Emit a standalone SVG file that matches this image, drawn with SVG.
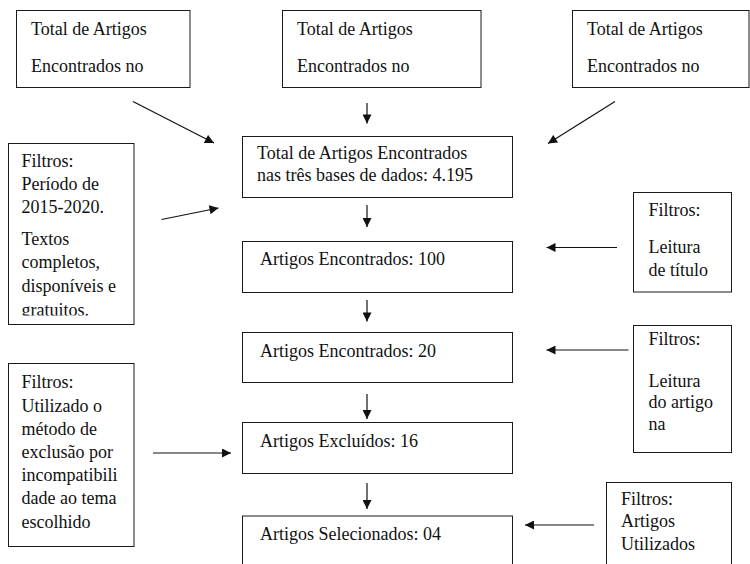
<svg xmlns="http://www.w3.org/2000/svg" width="750" height="564" viewBox="0 0 750 564">
<style>
.box{fill:#fff;stroke:#1a1a1a;stroke-width:1}
.t{font-family:"Liberation Serif","Times New Roman",serif;font-size:18px;fill:#111}
.c{stroke:#111;stroke-width:1.2;fill:none}
</style>
<defs>
<marker id="ah" viewBox="0 0 10 10" refX="10" refY="5" markerWidth="10" markerHeight="9" markerUnits="userSpaceOnUse" orient="auto">
<path d="M0,0 L10,5 L0,10 z" fill="#111"/>
</marker>
<clipPath id="clipL1"><rect x="8" y="143" width="126" height="172.5"/></clipPath>
</defs>
<rect width="750" height="564" fill="#fff"/>

<g id="top-left">
<rect class="box" x="16.5" y="10.5" width="173.5" height="77"/>
<text class="t" x="31" y="34.5">Total de Artigos</text>
<text class="t" x="31" y="72">Encontrados no</text>
</g>
<g id="top-middle">
<rect class="box" x="282.5" y="10.5" width="198.5" height="77"/>
<text class="t" x="297" y="34.5">Total de Artigos</text>
<text class="t" x="297" y="72">Encontrados no</text>
</g>
<g id="top-right">
<rect class="box" x="572.5" y="10.5" width="176.5" height="77"/>
<text class="t" x="587" y="34.5">Total de Artigos</text>
<text class="t" x="587" y="72">Encontrados no</text>
</g>

<g id="total">
<rect class="box" x="242.5" y="136.5" width="270" height="61"/>
<text class="t" x="257" y="158.5">Total de Artigos Encontrados</text>
<text class="t" x="257" y="181">nas três bases de dados: 4.195</text>
</g>
<g id="encontrados100">
<rect class="box" x="242.5" y="241.5" width="270" height="51"/>
<text class="t" x="260" y="264.5">Artigos Encontrados: 100</text>
</g>
<g id="encontrados20">
<rect class="box" x="242.5" y="332.5" width="270" height="50"/>
<text class="t" x="260" y="356.5">Artigos Encontrados: 20</text>
</g>
<g id="excluidos">
<rect class="box" x="242.5" y="422.5" width="270" height="51"/>
<text class="t" x="260" y="447">Artigos Excluídos: 16</text>
</g>
<g id="selecionados">
<rect class="box" x="242.5" y="516" width="270" height="60"/>
<text class="t" x="260" y="539.5">Artigos Selecionados: 04</text>
</g>

<g id="filtro-periodo">
<rect class="box" x="8.5" y="143.5" width="125.5" height="181"/>
<g clip-path="url(#clipL1)">
<text class="t" x="21.5" y="166.5">Filtros:</text>
<text class="t" x="21.5" y="190">Período de</text>
<text class="t" x="21.5" y="213.3">2015-2020.</text>
<text class="t" x="21.5" y="245">Textos</text>
<text class="t" x="21.5" y="268.3">completos,</text>
<text class="t" x="21.5" y="291.7">disponíveis e</text>
<text class="t" x="21.5" y="316">gratuitos.</text>
</g>
</g>
<g id="filtro-exclusao">
<rect class="box" x="8.5" y="363.5" width="125.5" height="183"/>
<text class="t" x="21.5" y="388.3">Filtros:</text>
<text class="t" x="21.5" y="411.5">Utilizado o</text>
<text class="t" x="21.5" y="434.7">método de</text>
<text class="t" x="21.5" y="457.9">exclusão por</text>
<text class="t" x="21.5" y="481.1">incompatibili</text>
<text class="t" x="21.5" y="504.3">dade ao tema</text>
<text class="t" x="21.5" y="527.5">escolhido</text>
</g>
<g id="filtro-titulo">
<rect class="box" x="633.5" y="192.5" width="98" height="99.5"/>
<text class="t" x="648.5" y="216">Filtros:</text>
<text class="t" x="648.5" y="253.3">Leitura</text>
<text class="t" x="648.5" y="275.7">de título</text>
</g>
<g id="filtro-artigo">
<rect class="box" x="633.5" y="325.5" width="98" height="127"/>
<text class="t" x="648.5" y="345">Filtros:</text>
<text class="t" x="648.5" y="386.7">Leitura</text>
<text class="t" x="648.5" y="408.3">do artigo</text>
<text class="t" x="648.5" y="430">na</text>
</g>
<g id="filtro-utilizados">
<rect class="box" x="606.5" y="482.5" width="125" height="95"/>
<text class="t" x="621" y="505">Filtros:</text>
<text class="t" x="621" y="527">Artigos</text>
<text class="t" x="621" y="550">Utilizados</text>
</g>

<g id="connectors">
<line class="c" x1="133" y1="101.5" x2="214" y2="143" marker-end="url(#ah)"/>
<line class="c" x1="367" y1="103" x2="367" y2="123.5" marker-end="url(#ah)"/>
<line class="c" x1="615" y1="101.5" x2="548" y2="143.5" marker-end="url(#ah)"/>
<line class="c" x1="161.5" y1="219.5" x2="218.5" y2="208" marker-end="url(#ah)"/>
<line class="c" x1="367" y1="205" x2="367" y2="227" marker-end="url(#ah)"/>
<line class="c" x1="617" y1="247.5" x2="546.5" y2="247.5" marker-end="url(#ah)"/>
<line class="c" x1="367" y1="300" x2="367" y2="321.5" marker-end="url(#ah)"/>
<line class="c" x1="628.5" y1="350" x2="546.5" y2="350" marker-end="url(#ah)"/>
<line class="c" x1="367" y1="394" x2="367" y2="419" marker-end="url(#ah)"/>
<line class="c" x1="153" y1="453" x2="231" y2="453" marker-end="url(#ah)"/>
<line class="c" x1="367" y1="483" x2="367" y2="509" marker-end="url(#ah)"/>
<line class="c" x1="594" y1="525" x2="525" y2="525" marker-end="url(#ah)"/>
</g>
</svg>
